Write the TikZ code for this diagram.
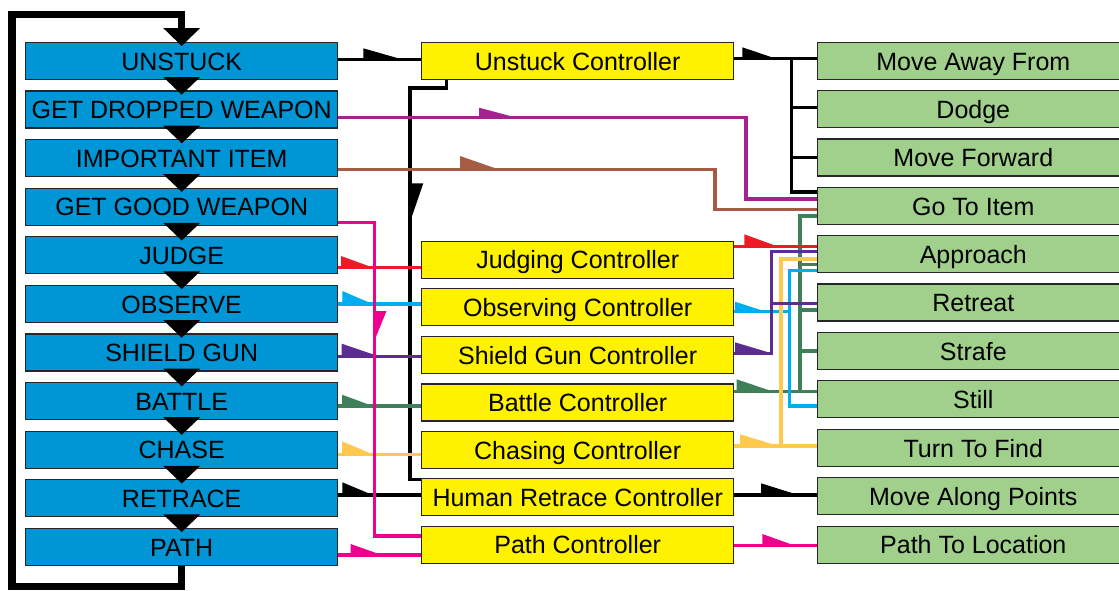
\documentclass[tikz,border=0pt]{standalone}
\usepackage{fontspec}
\setmainfont{Liberation Sans}
\definecolor{bluebox}{HTML}{0096D6}
\definecolor{yelbox}{HTML}{FFF200}
\definecolor{grnbox}{HTML}{A0D08C}
\definecolor{cred}{HTML}{ED1C24}
\definecolor{ccyan}{HTML}{00AEEF}
\definecolor{cviolet}{HTML}{5C2D91}
\definecolor{cmag}{HTML}{A3228F}
\definecolor{cbrown}{HTML}{A65B45}
\definecolor{cgreen}{HTML}{3F805B}
\definecolor{cgold}{HTML}{FFC84F}
\definecolor{cpink}{HTML}{EC008C}
\newcommand\boxfont{\fontsize{25}{30}\selectfont}
% half arrow pointing right: colour, x0, ytop, xtip, yline
\newcommand\harr[5]{\fill[#1] (#2,#3) -- (#2,#5) -- (#4,#5) -- cycle;}
% half arrow pointing down: colour, x line, ytop, x right, ytip
\newcommand\varr[5]{\fill[#1] (#2,#3) -- (#4,#3) -- (#2,#5) -- cycle;}
\tikzset{
  box/.style={draw=black!85, line width=1.2pt, minimum width=312pt, minimum height=37pt,
    inner sep=0pt, text height=18.5pt, text depth=0pt, font=\boxfont},
  bbox/.style={box, fill=bluebox},
  ybox/.style={box, fill=yelbox},
  gbox/.style={box, fill=grnbox},
  wire/.style={line width=3.2pt, line join=miter, line cap=butt},
  loopline/.style={line width=7.5pt, line join=miter, line cap=butt},
}
\begin{document}
\begin{tikzpicture}[x=1pt,y=-1pt]
\clip (0,0) rectangle (1119,590);
\fill[white] (0,0) rectangle (1119,590);
% blue column
\foreach \i/\t in {0/UNSTUCK,1/GET DROPPED WEAPON,2/IMPORTANT ITEM,3/GET GOOD WEAPON,4/JUDGE,5/OBSERVE,6/SHIELD GUN,7/BATTLE,8/CHASE,9/RETRACE,10/PATH}
  \node[bbox] (b\i) at (181.7,60.8+48.6*\i) {\t};
% yellow column
\node[ybox] (yu) at (577.7,60.8) {Unstuck Controller};
\node[ybox] (yj) at (577.7,259.7) {Judging Controller};
\node[ybox] (yo) at (577.7,307.3) {Observing Controller};
\node[ybox] (ys) at (577.7,354.8) {Shield Gun Controller};
\node[ybox] (yb) at (577.7,402.5) {Battle Controller};
\node[ybox] (yc) at (577.7,450.0) {Chasing Controller};
\node[ybox] (yh) at (577.7,497.3) {Human Retrace Controller};
\node[ybox] (yp) at (577.7,544.7) {Path Controller};
% green column
\node[gbox] (g0) at (973.3,60.8) {Move Away From};
\node[gbox] (g1) at (973.3,109.3) {Dodge};
\node[gbox] (g2) at (973.3,157.5) {Move Forward};
\node[gbox] (g3) at (973.3,205.8) {Go To Item};
\node[gbox] (g4) at (973.3,254.3) {Approach};
\node[gbox] (g5) at (973.3,302.5) {Retreat};
\node[gbox] (g6) at (973.3,351.0) {Strafe};
\node[gbox] (g7) at (973.3,399.3) {Still};
\node[gbox] (g8) at (973.3,448.0) {Turn To Find};
\node[gbox] (g9) at (973.3,496.3) {Move Along Points};
\node[gbox] (g10) at (973.3,544.7) {Path To Location};

% sequence arrows between blue boxes
\foreach \i in {0,...,9}
  \fill[black] (163.2,77+48.6*\i) -- (200.2,77+48.6*\i) -- (181.7,94.7+48.6*\i) -- cycle;
% loop back from PATH to UNSTUCK
\draw[loopline] (b10.south) -- (b10.south |- 0,586.5) -- (12,586.5) -- (12,14.5) -- (b0.north |- 0,14.5) -- (b0.north |- 0,28.5);
\fill[black] (163.2,28) -- (200.2,28) -- (181.7,46) -- cycle;

% ---- left side connectors
\draw[wire] (yu.south -| 446.7,0) -- (446.7,88) -- (410,88) -- (410,479.5) -- (yh.west |- 0,479.5);
\varr{black}{410}{183.3}{423.3}{222}
\draw[wire] (b0.east |- 0,59.3) -- (yu.west |- 0,59.3);
\harr{black}{363.3}{48.3}{401.7}{59.3}
\draw[wire,cmag] (b1.east |- 0,117.7) -- (746,117.7) -- (746,199) -- (g3.west |- 0,199);
\harr{cmag}{479}{107.7}{516.7}{117.7}
\draw[wire,cbrown] (b2.east |- 0,169.3) -- (715,169.3) -- (715,209.3) -- (g3.west |- 0,209.3);
\harr{cbrown}{460}{156}{498.3}{169.3}
\draw[wire,cred] (b4.east |- 0,267.5) -- (yj.west |- 0,267.5);
\harr{cred}{341}{256}{372.7}{267.5}
\draw[wire,ccyan] (b5.east |- 0,304) -- (yo.west |- 0,304);
\harr{ccyan}{342.3}{291}{372.7}{304}
\draw[wire,cviolet] (b6.east |- 0,356.7) -- (ys.west |- 0,356.7);
\harr{cviolet}{341.7}{343.7}{380}{356.7}
\draw[wire,cgreen] (b7.east |- 0,406) -- (yb.west |- 0,406);
\harr{cgreen}{342}{394.7}{372.7}{406}
\draw[wire,cgold] (b8.east |- 0,454.3) -- (yc.west |- 0,454.3);
\harr{cgold}{342}{441.3}{372.7}{454.3}
\draw[wire] (b9.east |- 0,495) -- (yh.west |- 0,495);
\harr{black}{342.3}{482.3}{372.7}{495}
\draw[wire,cpink] (b10.east |- 0,555) -- (yp.west |- 0,555);
\harr{cpink}{350.7}{544}{381.7}{555}
\draw[wire,cpink] (b3.east |- 0,222.3) -- (374.3,222.3) -- (374.3,536) -- (yp.west |- 0,536);
\varr{cpink}{374.3}{311}{386.5}{341}

% ---- right side connectors
\draw[wire] (yu.east |- 0,58.3) -- (g0.west |- 0,58.3);
\draw[wire] (791.7,58.3) -- (791.7,192) -- (g3.west |- 0,192);
\draw[wire] (791.7,107.7) -- (g1.west |- 0,107.7);
\draw[wire] (791.7,157.5) -- (g2.west |- 0,157.5);
\harr{black}{742.3}{47.3}{775}{58.3}
% green (battle)
\draw[wire,cgreen] (yb.east |- 0,391.7) -- (g7.west |- 0,391.7);
\draw[wire,cgreen] (800,391.7) -- (800,216) -- (g3.west |- 0,216);
\draw[wire,cgreen] (800,264.3) -- (g4.west |- 0,264.3);
\draw[wire,cgreen] (800,310) -- (g5.west |- 0,310);
\draw[wire,cgreen] (800,351) -- (g6.west |- 0,351);
\harr{cgreen}{736.7}{379.3}{773.3}{391.7}
% cyan (observing)
\draw[wire,ccyan] (g4.west |- 0,270.7) -- (789.3,270.7) -- (789.3,406) -- (g7.west |- 0,406);
\draw[wire,ccyan] (yo.east |- 0,311.7) -- (789.3,311.7);
\harr{ccyan}{735}{301.7}{766}{311.7}
% gold (chasing)
\draw[wire,cgold] (yc.east |- 0,446) -- (g8.west |- 0,446);
\draw[wire,cgold] (781,446) -- (781,259) -- (g4.west |- 0,259);
\harr{cgold}{740}{434.3}{778.3}{446}
% violet (shield gun)
\draw[wire,cviolet] (ys.east |- 0,353.3) -- (771.7,353.3) -- (771.7,251.7) -- (g4.west |- 0,251.7);
\draw[wire,cviolet] (771.7,303.3) -- (g5.west |- 0,303.3);
\harr{cviolet}{735}{342.3}{771.7}{353.3}
% red (judging)
\draw[wire,cred] (yj.east |- 0,246.7) -- (g4.west |- 0,246.7);
\harr{cred}{744.3}{234.3}{778.3}{246.7}
% black (retrace) and pink (path)
\draw[wire] (yh.east |- 0,495) -- (g9.west |- 0,495);
\harr{black}{761}{483.3}{798.3}{495}
\draw[wire,cpink] (yp.east |- 0,545.7) -- (g10.west |- 0,545.7);
\harr{cpink}{762.3}{534}{795}{545.7}
\end{tikzpicture}
\end{document}
